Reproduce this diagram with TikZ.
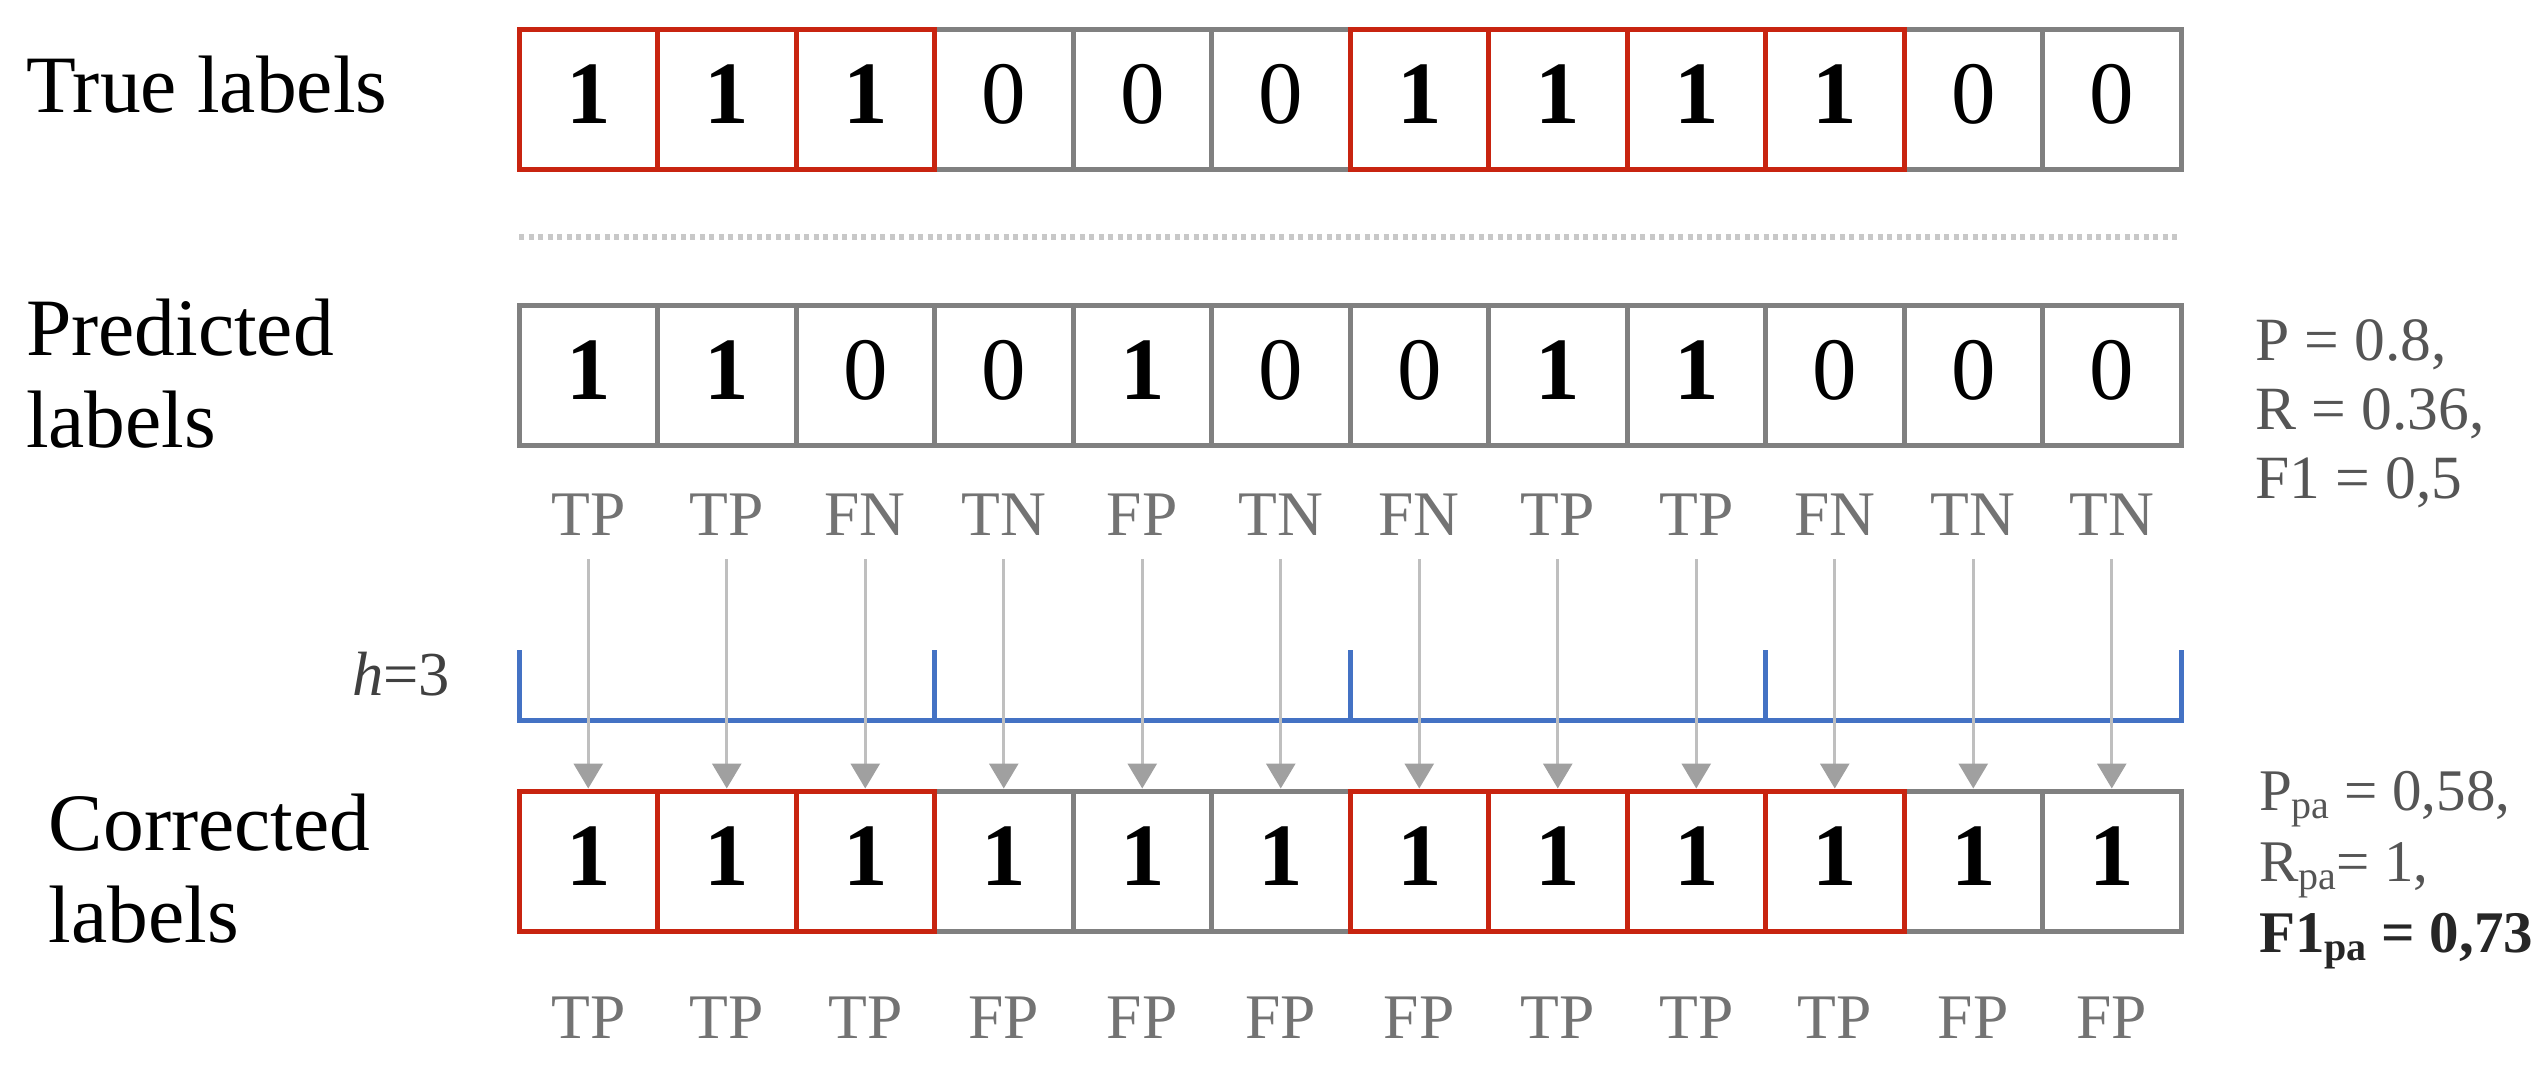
\documentclass[tikz,border=0pt]{standalone}
\usepackage{fontspec}
\setmainfont{Liberation Serif}
\usetikzlibrary{arrows.meta}
\definecolor{boxred}{RGB}{200,36,16}
\definecolor{boxgray}{RGB}{128,128,128}
\definecolor{brblue}{RGB}{68,114,196}
\definecolor{arrgray}{RGB}{191,191,191}
\definecolor{headgray}{RGB}{160,160,160}
\definecolor{lblgray}{RGB}{115,115,115}
\definecolor{metgray}{RGB}{85,85,85}
\definecolor{dotgray}{RGB}{200,200,200}
\newcommand{\digit}[1]{\ifnum#1=1 \textbf{1}\else 0\fi}
\newcommand{\mysub}[1]{\raisebox{-0.15em}{\fontsize{8}{9}\selectfont #1}}
\begin{document}
\begin{tikzpicture}[x=0.2pt,y=-0.2pt,
 cell/.style={draw=boxgray, line width=1pt, minimum width=27.7pt, minimum height=28pt, inner sep=0pt, text depth=2pt, font=\fontsize{17.8}{18}\selectfont},
 redcell/.style={cell, draw=boxred},
 rowlabel/.style={anchor=base west, inner sep=0pt, font=\fontsize{16.3}{18.4}\selectfont, align=left},
 cls/.style={anchor=base, inner sep=0pt, text=lblgray, font=\fontsize{12.7}{14}\selectfont},
 metric/.style={anchor=base west, inner sep=0pt, text=metgray, align=left},
 conn/.style={draw=arrgray, line width=0.6pt, -{Triangle[width=5.8pt,length=5pt,color=headgray]}, shorten <=4.6pt},
 bracket/.style={draw=brblue, line width=1pt},
 sepline/.style={draw=dotgray, line width=1.2pt, dash pattern=on 1pt off 0.9pt}
]
\useasboundingbox (0,0) rectangle (2542,1070);

% row labels (base anchor = baseline of last line)
\node[rowlabel] (tl) at (25,112) {True labels};
\node[rowlabel] (pl) at (25,447) {Predicted\\labels};
\node[rowlabel] (cl) at (48,942) {Corrected\\labels};

% true labels row
\foreach \i/\v in {3/0,4/0,5/0,10/0,11/0,0/1,1/1,2/1,6/1,7/1,8/1,9/1} {
  \ifnum\v=1
    \node[redcell] (t\i) at (588.25+138.5*\i,99) {\textbf{1}};
  \else
    \node[cell] (t\i) at (588.25+138.5*\i,99) {0};
  \fi
}

% separator
\coordinate (sepL) at (519,237);
\coordinate (sepR) at (2181,237);
\draw[sepline] (sepL) -- (sepR);

% predicted row
\foreach \v [count=\i from 0] in {1,1,0,0,1,0,0,1,1,0,0,0} {
  \node[cell] (p\i) at (588.25+138.5*\i,375) {\digit{\v}};
}

% metrics
\node[metric, font=\fontsize{12.3}{13.8}\selectfont] (m1) at (2254,498) {P = 0.8,\\R = 0.36,\\F1 = 0,5};

% classification labels
\foreach \s [count=\i from 0] in {TP,TP,FN,TN,FP,TN,FN,TP,TP,FN,TN,TN} {
  \node[cls] (l\i) at (588.25+138.5*\i,535) {\s};
}

% h=3 bracket
\node[anchor=base west, inner sep=0pt, text=black!75, font=\fontsize{12.5}{14}\selectfont] (h) at (351,695) {\textit{h}=3};
\foreach \k/\x in {0/519,1/934.5,2/1350,3/1765.5,4/2181} {
  \coordinate (bt\k) at (\x,650);
  \coordinate (bb\k) at (\x,720);
}
\draw[bracket] (bt0) -- (bb0) -- (bb4) -- (bt4);
\draw[bracket] (bt1) -- (bb1);
\draw[bracket] (bt2) -- (bb2);
\draw[bracket] (bt3) -- (bb3);

% corrected row
\foreach \i in {3,4,5,10,11} {
  \node[cell] (c\i) at (588.25+138.5*\i,861) {\textbf{1}};
}
\foreach \i in {0,1,2,6,7,8,9} {
  \node[redcell] (c\i) at (588.25+138.5*\i,861) {\textbf{1}};
}

% arrows
\foreach \i in {0,...,11} {
  \draw[conn] (l\i.south) -- (c\i.north);
}

% corrected metrics
\node[metric, font=\fontsize{11.8}{14.2}\selectfont] (m2) at (2258,952) {P\mysub{pa} = 0,58,\\R\mysub{pa}= 1,\\\textcolor{black!85}{\textbf{F1\mysub{pa} = 0,73}}};

% bottom labels
\foreach \s [count=\i from 0] in {TP,TP,TP,FP,FP,FP,FP,TP,TP,TP,FP,FP} {
  \node[cls] (b\i) at (588.25+138.5*\i,1038) {\s};
}
\end{tikzpicture}
\end{document}
